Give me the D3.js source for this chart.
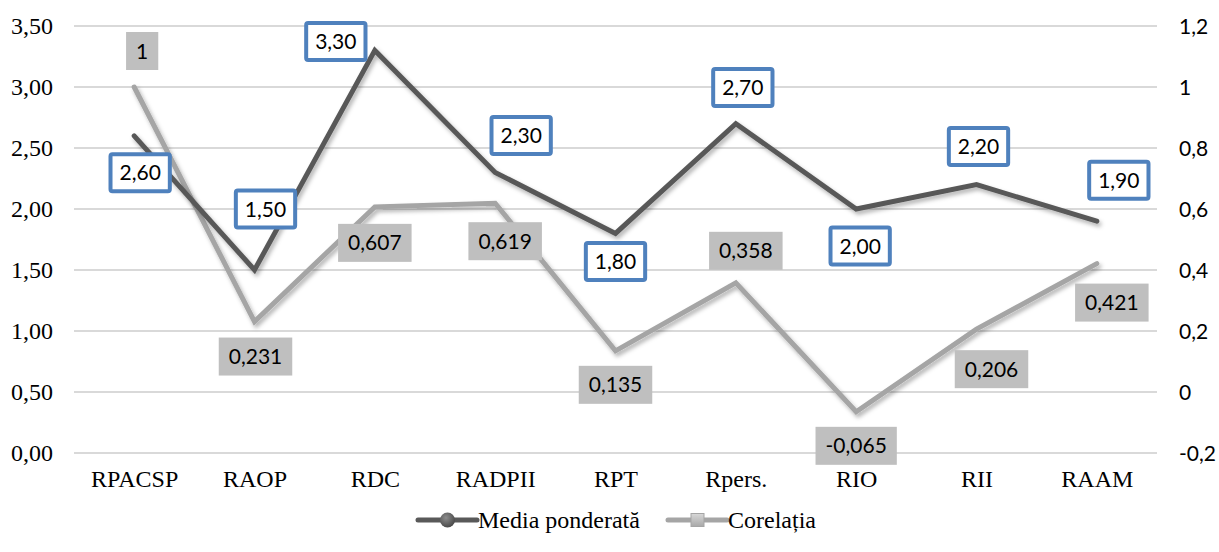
<!DOCTYPE html>
<html>
<head>
<meta charset="utf-8">
<script src="https://cdn.jsdelivr.net/npm/d3@7/dist/d3.min.js"></script>
<style>
  html, body { margin: 0; padding: 0; background: #fff; }
  svg { display: block; }
</style>
</head>
<body>
<svg id="chart" width="1219" height="552"></svg>
<script>
// Indicator codes along the x axis
const categories = ["RPACSP", "RAOP", "RDC", "RADPII", "RPT", "Rpers.", "RIO", "RII", "RAAM"];
// Weighted mean (left axis)
const mediaPonderata = [2.60, 1.50, 3.30, 2.30, 1.80, 2.70, 2.00, 2.20, 1.90];
// Correlation (right axis)
const corelatia = [1, 0.231, 0.607, 0.619, 0.135, 0.358, -0.065, 0.206, 0.421];
// Axis ticks
const leftTicks = [0, 0.5, 1, 1.5, 2, 2.5, 3, 3.5];
const rightTicks = [-0.2, 0, 0.2, 0.4, 0.6, 0.8, 1, 1.2];
const seriesNames = ["Media ponderată", "Corelația"];

// Label placement relative to each point (layout only)
const mediaLabelShift = [[6, 37], [11, -61], [-39, -9], [26, -37], [0, 28], [7, -36], [4, 37], [2, -38], [22, -41]];
const corrLabelShift = [[8, -36], [1, 35], [0, 36], [10, 38], [0, 34], [10, -32], [0, 34], [15, 40], [15, 39]];

const svg = d3.select("#chart");
const plot = { left: 74, right: 1157, top: 26, bottom: 453 };

const x = d3.scalePoint().domain(categories).range([plot.left, plot.right]).padding(0.5);
const yL = d3.scaleLinear().domain([0, 3.5]).range([plot.bottom, plot.top]);
const yR = d3.scaleLinear().domain([-0.2, 1.2]).range([plot.bottom, plot.top]);

const comma = v => String(v).replace(".", ",");
const fmtL = v => d3.format(".2f")(v).replace(".", ",");
const fmtR = v => comma(+v.toFixed(3));

const serif = "'Liberation Serif', 'Times New Roman', serif";
const sans = "Lato, 'Open Sans', sans-serif";

// Soft shadow under the lines
const defs = svg.append("defs");
const f = defs.append("filter").attr("id", "shadow").attr("x", "-10%").attr("y", "-10%").attr("width", "120%").attr("height", "130%");
f.append("feDropShadow").attr("dx", 2).attr("dy", 3).attr("stdDeviation", 2)
  .attr("flood-color", "#000").attr("flood-opacity", 0.3);

const gradC = defs.append("radialGradient").attr("id", "dotGrad").attr("cx", "40%").attr("cy", "35%").attr("r", "65%");
gradC.append("stop").attr("offset", "0%").attr("stop-color", "#8c8c8c");
gradC.append("stop").attr("offset", "100%").attr("stop-color", "#4a4a4a");
const gradS = defs.append("linearGradient").attr("id", "sqGrad").attr("x1", 0).attr("y1", 0).attr("x2", 0).attr("y2", 1);
gradS.append("stop").attr("offset", "0%").attr("stop-color", "#d8d8d8");
gradS.append("stop").attr("offset", "100%").attr("stop-color", "#a8a8a8");

// Gridlines
svg.append("g").selectAll("line").data(leftTicks).join("line")
  .attr("x1", plot.left).attr("x2", plot.right)
  .attr("y1", d => yL(d)).attr("y2", d => yL(d))
  .attr("stroke", "#d9d9d9").attr("stroke-width", 2);

// Left axis
const axL = svg.append("g").attr("transform", `translate(${plot.left},0)`)
  .call(d3.axisLeft(yL).tickValues(leftTicks).tickFormat(fmtL).tickSize(0).tickPadding(21));
axL.select(".domain").remove();
axL.selectAll("text").attr("font-family", serif).attr("font-size", 24).attr("fill", "#000").attr("dy", "0.33em");

// Right axis
const axR = svg.append("g").attr("transform", `translate(${plot.right},0)`)
  .call(d3.axisRight(yR).tickValues(rightTicks).tickFormat(fmtR).tickSize(0).tickPadding(22));
axR.select(".domain").remove();
axR.selectAll("text").attr("font-family", sans).attr("font-size", 21).attr("fill", "#000").attr("dy", "0.36em");

// Category axis
const axX = svg.append("g").attr("transform", `translate(0,${plot.bottom})`)
  .call(d3.axisBottom(x).tickSize(0).tickPadding(17));
axX.select(".domain").remove();
axX.selectAll("text").attr("font-family", serif).attr("font-size", 24).attr("fill", "#000").attr("dy", "0.71em");

// Lines
const lineL = d3.line().x((d, i) => x(categories[i])).y(d => yL(d));
const lineR = d3.line().x((d, i) => x(categories[i])).y(d => yR(d));

svg.append("path").datum(corelatia).attr("d", lineR)
  .attr("fill", "none").attr("stroke", "#a5a5a5").attr("stroke-width", 5)
  .attr("stroke-linecap", "round").attr("stroke-linejoin", "miter").attr("filter", "url(#shadow)");
svg.append("path").datum(mediaPonderata).attr("d", lineL)
  .attr("fill", "none").attr("stroke", "#595959").attr("stroke-width", 5)
  .attr("stroke-linecap", "round").attr("stroke-linejoin", "miter").attr("filter", "url(#shadow)");

// Data labels
function drawLabels(values, yScale, shifts, fmt, boxStyle) {
  const g = svg.append("g");
  values.forEach((v, i) => {
    const cx = x(categories[i]) + shifts[i][0];
    const cy = yScale(v) + shifts[i][1];
    const lg = g.append("g").attr("transform", `translate(${cx},${cy})`);
    const rect = lg.append("rect");
    const t = lg.append("text").text(fmt(v))
      .attr("text-anchor", "middle").attr("dy", "0.36em")
      .attr("font-family", sans).attr("font-size", 21).attr("fill", "#000");
    const w = t.node().getBBox().width + boxStyle.pad * 2;
    const h = boxStyle.h;
    rect.attr("x", -w / 2).attr("y", -h / 2).attr("width", w).attr("height", h)
      .attr("rx", boxStyle.rx).attr("fill", boxStyle.fill)
      .attr("stroke", boxStyle.stroke).attr("stroke-width", boxStyle.sw);
  });
}
drawLabels(corelatia, yR, corrLabelShift, fmtR, { pad: 10, h: 38, rx: 0, fill: "#bfbfbf", stroke: "none", sw: 0 });
drawLabels(mediaPonderata, yL, mediaLabelShift, fmtL, { pad: 9, h: 37, rx: 2, fill: "#fff", stroke: "#4f81bd", sw: 4 });

// Legend
const legend = svg.append("g");
const legY = 520;
const items = [
  { name: seriesNames[0], x: 418, color: "#595959", marker: "circle" },
  { name: seriesNames[1], x: 668, color: "#a5a5a5", marker: "square" }
];
items.forEach(it => {
  const g = legend.append("g").attr("transform", `translate(${it.x},${legY})`);
  g.append("line").attr("x1", 0).attr("x2", 59).attr("y1", 0).attr("y2", 0)
    .attr("stroke", it.color).attr("stroke-width", 5).attr("stroke-linecap", "round");
  if (it.marker === "circle") {
    g.append("circle").attr("cx", 29.5).attr("cy", 0).attr("r", 7.5).attr("fill", "url(#dotGrad)");
  } else {
    g.append("rect").attr("x", 23).attr("y", -6.5).attr("width", 13).attr("height", 13)
      .attr("fill", "url(#sqGrad)").attr("stroke", "#a5a5a5").attr("stroke-width", 1);
  }
  g.append("text").attr("x", 60).attr("y", 8).text(it.name)
    .attr("font-family", serif).attr("font-size", 24).attr("fill", "#000");
});
</script>
</body>
</html>
